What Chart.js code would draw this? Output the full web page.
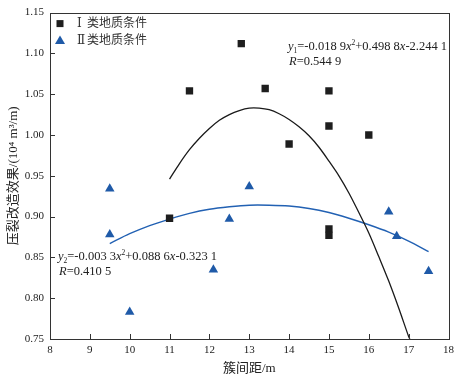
<!DOCTYPE html>
<html>
<head>
<meta charset="utf-8">
<script src="https://cdn.jsdelivr.net/npm/chart.js@4.4.1/dist/chart.umd.min.js"></script>
<style>
  html, body { margin: 0; padding: 0; background: #fff; }
  #wrap { width: 459px; height: 381px; }
</style>
</head>
<body>
<div id="wrap"><canvas id="chart"></canvas></div>
<script>
// datos
const typeIX = [11.0, 11.5, 12.8, 13.4, 14.0, 15.0, 15.0, 15.0, 15.0, 16.0];
const typeIY = [0.898, 1.054, 1.112, 1.057, 0.989, 1.054, 1.011, 0.885, 0.877, 1.000];
const typeIIX = [9.5, 9.5, 10.0, 12.1, 12.5, 13.0, 16.5, 16.7, 17.5];
const typeIIY = [0.934, 0.878, 0.783, 0.835, 0.897, 0.937, 0.906, 0.876, 0.833];

// curvas de ajuste, leídas punto a punto
const fit1X = [11.0, 11.25, 11.5, 11.75, 12.0, 12.25, 12.5, 12.75, 13.0, 13.25, 13.5, 13.75, 14.0, 14.25,
  14.5, 14.75, 15.0, 15.25, 15.5, 15.75, 16.0, 16.25, 16.5, 16.75, 17.0, 17.03];
const fit1Y = [0.946, 0.965, 0.982, 0.996, 1.008, 1.018, 1.025, 1.030, 1.033, 1.033, 1.031, 1.026, 1.019, 1.010,
  0.999, 0.985, 0.968, 0.950, 0.929, 0.905, 0.880, 0.851, 0.821, 0.788, 0.753, 0.750];
const fit2X = [9.5, 10.0, 10.5, 11.0, 11.5, 12.0, 12.5, 13.0, 13.5, 14.0, 14.5, 15.0, 15.5, 16.0, 16.5, 17.0, 17.5];
const fit2Y = [0.867, 0.879, 0.889, 0.897, 0.904, 0.909, 0.912, 0.914, 0.914, 0.913, 0.910, 0.905, 0.898, 0.890, 0.881, 0.870, 0.857];

const xTicks = [8, 9, 10, 11, 12, 13, 14, 15, 16, 17, 18];
const yTicks = [0.75, 0.80, 0.85, 0.90, 0.95, 1.00, 1.05, 1.10, 1.15];

const legendLabels = [["Ⅰ", "类地质条件"], ["Ⅱ", "类地质条件"]];
const xTitle = "簇间距/m";
const yTitle = "压裂改造效果/(10⁴ m³/m)";

// ecuaciones: trozos de texto {t, it (cursiva), sub, sup}
const eq1 = [{ t: "y", it: 1 }, { t: "1", sub: 1 }, { t: "=-0.018 9" }, { t: "x", it: 1 }, { t: "2", sup: 1 },
  { t: "+0.498 8" }, { t: "x", it: 1 }, { t: "-2.244 1" }];
const r1 = [{ t: "R", it: 1 }, { t: "=0.544 9" }];
const eq2 = [{ t: "y", it: 1 }, { t: "2", sub: 1 }, { t: "=-0.003 3" }, { t: "x", it: 1 }, { t: "2", sup: 1 },
  { t: "+0.088 6" }, { t: "x", it: 1 }, { t: "-0.323 1" }];
const r2 = [{ t: "R", it: 1 }, { t: "=0.410 5" }];

const BLACK = "#1e1e1e";
const BLUE = "#1f5aa8";
const SERIF = '"Liberation Serif", "DejaVu Serif", "Noto Sans CJK SC", serif';
const CJK = '"Liberation Serif", "Noto Sans CJK SC", serif';

const toXY = (xs, ys) => xs.map((x, i) => ({ x, y: ys[i] }));

function drawRuns(ctx, runs, x, y, size) {
  ctx.textBaseline = "middle";
  ctx.textAlign = "left";
  let cx = x;
  for (const r of runs) {
    const fs = r.sub || r.sup ? size * 0.6 : size;
    ctx.font = `${r.it ? "italic " : ""}${fs}px ${SERIF}`;
    const dy = r.sub ? size * 0.3 : r.sup ? -size * 0.35 : 0;
    ctx.fillText(r.t, cx, y + dy);
    cx += ctx.measureText(r.t).width;
  }
}

const decorPlugin = {
  id: "decor",
  afterDatasetsDraw(chart) {
    const { ctx, chartArea: a, scales } = chart;
    ctx.save();
    // marco
    ctx.strokeStyle = "#333";
    ctx.lineWidth = 1;
    ctx.strokeRect(Math.round(a.left) + 0.5, Math.round(a.top) + 0.5,
      Math.round(a.right - a.left), Math.round(a.bottom - a.top));
    // ticks hacia dentro
    ctx.beginPath();
    scales.x.ticks.forEach((t) => {
      const px = Math.round(scales.x.getPixelForValue(t.value)) + 0.5;
      ctx.moveTo(px, a.bottom);
      ctx.lineTo(px, a.bottom - 5);
    });
    scales.y.ticks.forEach((t) => {
      const py = Math.round(scales.y.getPixelForValue(t.value)) + 0.5;
      ctx.moveTo(a.left, py);
      ctx.lineTo(a.left + 5, py);
    });
    ctx.stroke();

    // leyenda
    const lx = a.left + 10;
    const ly = [a.top + 11, a.top + 28];
    ctx.fillStyle = BLACK;
    ctx.fillRect(lx - 3.5, ly[0] - 3.5, 7, 7);
    ctx.fillStyle = BLUE;
    ctx.beginPath();
    ctx.moveTo(lx, ly[1] - 5);
    ctx.lineTo(lx + 5, ly[1] + 3.5);
    ctx.lineTo(lx - 5, ly[1] + 3.5);
    ctx.closePath();
    ctx.fill();
    ctx.fillStyle = "#333";
    ctx.textBaseline = "middle";
    ctx.textAlign = "left";
    legendLabels.forEach((lab, i) => {
      ctx.font = `12px ${SERIF}`;
      ctx.fillText(lab[0], lx + 17, ly[i]);
      ctx.font = `12px ${CJK}`;
      ctx.fillText(lab[1], lx + 27, ly[i]);
    });

    // ecuaciones
    ctx.fillStyle = "#222";
    drawRuns(ctx, eq1, 288, 47, 12.5);
    drawRuns(ctx, r1, 289, 62, 12.5);
    drawRuns(ctx, eq2, 58, 257, 12.5);
    drawRuns(ctx, r2, 59, 272, 12.5);
    ctx.restore();
  },
};

new Chart(document.getElementById("chart"), {
  type: "scatter",
  data: {
    datasets: [
      {
        label: "Ⅰ类地质条件",
        data: toXY(typeIX, typeIY),
        pointStyle: "rect",
        pointRadius: 5.2,
        backgroundColor: BLACK,
        borderColor: BLACK,
        borderWidth: 0,
      },
      {
        label: "Ⅱ类地质条件",
        data: toXY(typeIIX, typeIIY),
        pointStyle: "triangle",
        pointRadius: 5.5,
        backgroundColor: BLUE,
        borderColor: BLUE,
        borderWidth: 0,
      },
      {
        label: "fit1",
        data: toXY(fit1X, fit1Y),
        showLine: true,
        pointRadius: 0,
        borderColor: "#1a1a1a",
        borderWidth: 1.3,
        tension: 0.33,
      },
      {
        label: "fit2",
        data: toXY(fit2X, fit2Y),
        showLine: true,
        pointRadius: 0,
        borderColor: "#2261b3",
        borderWidth: 1.4,
        tension: 0.33,
      },
    ],
  },
  options: {
    responsive: true,
    maintainAspectRatio: false,
    animation: false,
    layout: { padding: { top: 11, right: 8, left: 0, bottom: 0 } },
    plugins: { legend: { display: false }, tooltip: { enabled: false } },
    scales: {
      x: {
        type: "linear",
        min: 8,
        max: 18,
        afterBuildTicks: (s) => { s.ticks = xTicks.map((v) => ({ value: v })); },
        afterFit: (s) => { s.height = 42; },
        grid: { display: false, drawTicks: false },
        border: { display: false },
        ticks: { padding: 5, color: "#222", font: { family: SERIF, size: 11 }, maxRotation: 0 },
        title: { display: true, text: xTitle, color: "#222", font: { family: CJK, size: 13 }, padding: { top: 0, bottom: 5 } },
      },
      y: {
        type: "linear",
        min: 0.75,
        max: 1.15,
        afterBuildTicks: (s) => { s.ticks = yTicks.map((v) => ({ value: v })); },
        afterFit: (s) => { s.width = 50; },
        grid: { display: false, drawTicks: false },
        border: { display: false },
        ticks: { padding: 6, color: "#222", font: { family: SERIF, size: 11 }, callback: (v) => v.toFixed(2) },
        title: { display: true, text: yTitle, color: "#222", font: { family: CJK, size: 13 }, padding: { top: 6, bottom: 0 } },
      },
    },
  },
  plugins: [decorPlugin],
});
</script>
</body>
</html>
